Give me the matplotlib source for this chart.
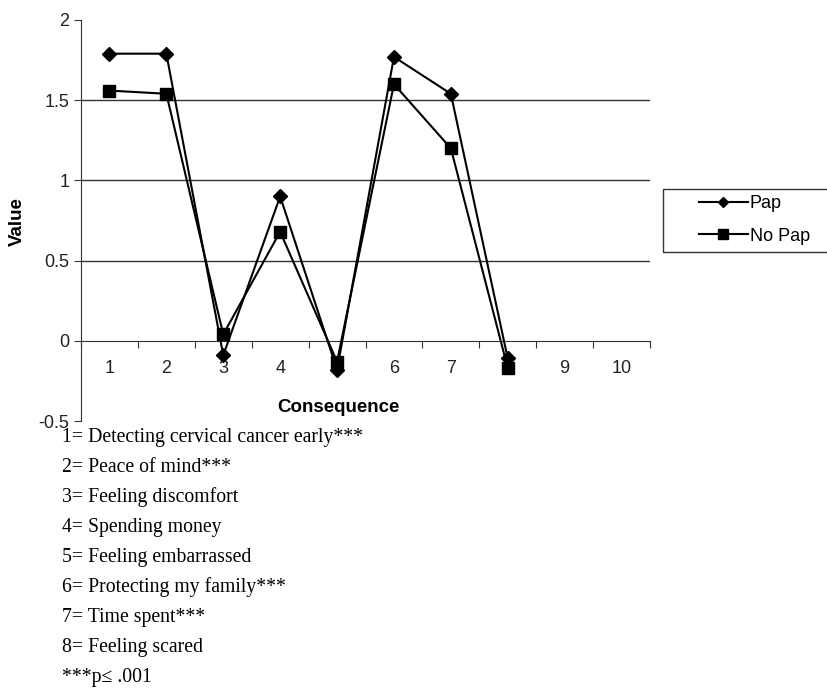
import matplotlib.pyplot as plt
from matplotlib.patches import Rectangle

# data
categories = [1, 2, 3, 4, 5, 6, 7, 8, 9, 10]
pap = [1.79, 1.79, -0.09, 0.90, -0.18, 1.77, 1.54, -0.11]
no_pap = [1.56, 1.54, 0.04, 0.68, -0.13, 1.60, 1.20, -0.17]
y_ticks = [-0.5, 0, 0.5, 1, 1.5, 2]
y_labels = ["-0.5", "0", "0.5", "1", "1.5", "2"]
footnotes = [
    "1= Detecting cervical cancer early***",
    "2= Peace of mind***",
    "3= Feeling discomfort",
    "4= Spending money",
    "5= Feeling embarrassed",
    "6= Protecting my family***",
    "7= Time spent***",
    "8= Feeling scared",
    "***p\u2264 .001",
]

plt.rcParams["font.family"] = ["Liberation Sans", "DejaVu Sans"]

fig = plt.figure(figsize=(8.28, 6.94), dpi=100)
ax = fig.add_axes([81 / 828, 1 - 421 / 694, (650 - 81) / 828, (421 - 20) / 694])

x = categories[:len(pap)]
ax.plot(x, pap, color="black", lw=1.5, marker="D", ms=7, label="Pap", zorder=3)
ax.plot(x, no_pap, color="black", lw=1.5, marker="s", ms=9, label="No Pap", zorder=3)

ax.set_xlim(0.5, 10.5)
ax.set_ylim(-0.5, 2)

for v in [0.5, 1, 1.5]:
    ax.axhline(v, color="#333333", lw=1, zorder=1)

ax.spines["top"].set_visible(False)
ax.spines["right"].set_visible(False)
ax.spines["bottom"].set_position(("data", 0))
ax.spines["left"].set_color("#333333")
ax.spines["bottom"].set_color("#333333")

ax.set_yticks(y_ticks)
ax.set_yticklabels(y_labels, fontsize=13, color="#222222")
ax.tick_params(axis="y", direction="out", length=5, color="#333333")

ax.set_xticks([c + 0.5 for c in [0] + categories])
ax.set_xticklabels([])
ax.set_xticks(categories, minor=True)
ax.set_xticklabels([str(c) for c in categories], minor=True, fontsize=13, color="#222222")
ax.tick_params(axis="x", which="major", direction="out", length=5, color="#333333")
ax.tick_params(axis="x", which="minor", length=0, pad=14)

fig.text(338 / 828, 1 - 408 / 694, "Consequence", ha="center", va="center",
         fontsize=13.5, fontweight="bold")
fig.text(17 / 828, 1 - 222 / 694, "Value", ha="center", va="center",
         rotation=90, fontsize=13.5, fontweight="bold")

# legend box
fig.patches.append(Rectangle((663 / 828, 1 - 252 / 694), 200 / 828, 63 / 694,
                             transform=fig.transFigure, fill=False,
                             edgecolor="#333333", lw=1))
fig.legend(loc="center left", bbox_to_anchor=(690 / 828, 1 - 220 / 694),
           frameon=False, fontsize=13, handlelength=2.7, handletextpad=0.1,
           labelspacing=0.85, borderpad=0, markerscale=0.8)

for i, line in enumerate(footnotes):
    fig.text(62 / 828, 1 - (437 + i * 30.1) / 694, line, ha="left", va="center",
             fontsize=14.2, family=["Liberation Serif", "DejaVu Serif"])

fig.savefig("out.png", dpi=100)
